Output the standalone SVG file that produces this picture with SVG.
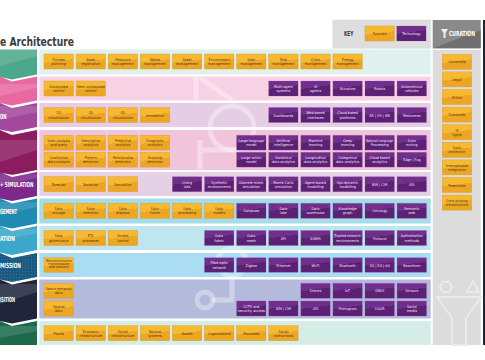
<svg xmlns="http://www.w3.org/2000/svg" width="485" height="360" viewBox="0 0 485 360">
<defs>
<linearGradient id="go" x1="0" y1="0" x2="0.25" y2="1"><stop offset=".55" stop-color="#f7b832"/><stop offset=".55" stop-color="#eda624"/></linearGradient>
<linearGradient id="gp" x1="0" y1="0" x2="0.25" y2="1"><stop offset=".5" stop-color="#722e8c"/><stop offset=".5" stop-color="#5c2075"/></linearGradient>
<pattern id="dots" width="3" height="3" patternUnits="userSpaceOnUse"><circle cx="1.5" cy="1.5" r=".45" fill="#4a8ab0"/></pattern>
<style>
.o{fill:url(#go);stroke:#d99a20;stroke-width:.4}
.p{fill:url(#gp);stroke:#8d4ca8;stroke-width:.4;stroke-dasharray:.6 .5}
.to,.tp{font-family:"Liberation Sans Narrow","DejaVu Sans Condensed","DejaVu Sans",sans-serif;font-size:3.7px;text-anchor:middle}
.to{fill:#4a3311}
.tp{fill:#f2e4f5}
.lab{font-family:"Liberation Sans Narrow","DejaVu Sans Condensed",sans-serif;font-weight:bold;fill:#ffffff;text-anchor:end}
.hd{font-family:"Liberation Sans Narrow","DejaVu Sans Condensed",sans-serif;font-weight:bold}
.sh{fill:#ffffff;opacity:.13}
</style>
</defs>
<rect width="485" height="360" fill="#ffffff"/>

<!-- title -->
<text class="hd" x="0" y="46.3" font-size="12.5" fill="#3b3b3b" textLength="74" lengthAdjust="spacingAndGlyphs">e Architecture</text>

<!-- layer panels -->
<g id="panels">
<rect x="39.3" y="49.5" width="391.4" height="25" fill="#e0f1ed"/>
<rect x="39.3" y="76.5" width="391.4" height="24" fill="#f7d2e4"/>
<rect x="39.3" y="103" width="391.4" height="24" fill="#e5cde5"/>
<rect x="39.3" y="130" width="391.4" height="40" fill="#f0c5dc"/>
<rect x="39.3" y="172" width="391.4" height="24" fill="#e6d0e6"/>
<rect x="39.3" y="198.5" width="391.4" height="25" fill="#a6dbe8"/>
<rect x="39.3" y="226" width="391.4" height="24" fill="#bfe5ee"/>
<rect x="39.3" y="253" width="391.4" height="24" fill="#aadcf2"/>
<rect x="39.3" y="279.5" width="391.4" height="39" fill="#b4badb"/>
<rect x="39.3" y="321" width="391.4" height="24" fill="#d5ede7"/>
</g>

<!-- faint watermark shapes -->
<g id="watermark" fill="none" stroke="#ffffff" stroke-opacity=".35" stroke-width="5">
<path d="M196 76 V100 M200 78 L232 100"/>
<circle cx="232" cy="128" r="22"/>
<path d="M200 140 V170 M200 150 H236"/>
<circle cx="205" cy="300" r="8"/>
<circle cx="232" cy="262" r="14"/>
<path d="M212 300 H232 V276"/>
</g>

<!-- chevrons -->
<g id="chevrons">
<g id="layer-1"><polygon points="0,49.5 37,49.5 37,74.5 12,79.5 0,77" fill="#4ca88b"/><polygon class="sh" points="0,49.5 37,49.5 37,56 0,66"/></g>
<g id="layer-2"><polygon points="0,76.5 12,81.5 37,76.5 37,100.5 12,105.5 0,103" fill="#e8699f"/><polygon class="sh" points="0,84 37,84 37,88 0,96"/></g>
<g id="layer-3"><polygon points="0,103 12,108 37,103 37,127 12,132 0,129.5" fill="#a3489d"/><polygon class="sh" points="0,106 37,106 37,112 0,120"/><text class="lab" x="6.5" y="119" font-size="7" textLength="6.5" lengthAdjust="spacingAndGlyphs">ON</text></g>
<g id="layer-4"><polygon points="0,130 12,135 37,130 37,170 12,175 0,172.5" fill="#8c1c5f"/><polygon class="sh" points="0,140 37,140 37,150 0,162"/></g>
<g id="layer-5"><polygon points="0,172 12,177 37,172 37,196 12,201 0,198.5" fill="#7b2a8c"/><polygon class="sh" points="0,174 37,174 37,178 0,186"/><text class="lab" x="33.5" y="186.8" font-size="7" textLength="33.5" lengthAdjust="spacingAndGlyphs">+ SIMULATION</text></g>
<g id="layer-6"><polygon points="0,198.5 12,203.5 37,198.5 37,223.5 12,228.5 0,226" fill="#1f8bb3"/><polygon class="sh" points="0,202 37,202 37,207 0,215"/><text class="lab" x="17" y="214.3" font-size="7" textLength="17" lengthAdjust="spacingAndGlyphs">GEMENT</text></g>
<g id="layer-7"><polygon points="0,226 12,231 37,226 37,250 12,255 0,252.5" fill="#3aa7cb"/><polygon class="sh" points="0,229 37,229 37,233 0,241"/><text class="lab" x="15" y="240.8" font-size="7" textLength="15" lengthAdjust="spacingAndGlyphs">ATION</text></g>
<g id="layer-8"><polygon points="0,253 12,258 37,253 37,277 12,282 0,279.5" fill="#1b5a80"/><polygon points="0,253 12,258 37,253 37,277 12,282 0,279.5" fill="url(#dots)"/><text class="lab" x="21" y="267.6" font-size="7" textLength="21" lengthAdjust="spacingAndGlyphs">MISSION</text></g>
<g id="layer-9"><polygon points="0,279.5 12,284.5 37,279.5 37,318.5 12,323.5 0,321" fill="#21253c"/><polygon class="sh" points="0,284 37,284 37,292 0,304"/><text class="lab" x="15" y="301.6" font-size="7" textLength="15" lengthAdjust="spacingAndGlyphs">ISITION</text></g>
<g id="layer-10"><polygon points="0,321 12,326 37,321 37,345 0,345" fill="#1b6a4b"/><polygon class="sh" points="0,326 37,326 37,331 0,338"/></g>
</g>

<!-- key -->
<g id="key">
<rect x="332.7" y="20" width="98" height="28.3" fill="#dedede" stroke="#c9c9c9" stroke-width=".5" stroke-dasharray="1 .8"/>
<text class="hd" x="348.7" y="35.6" font-size="6.8" fill="#3b3b3b" text-anchor="middle" textLength="9.5" lengthAdjust="spacingAndGlyphs">KEY</text>
<g id="key-function"><rect class="o" x="365" y="26" width="29.4" height="15"/><text class="to" x="379.7" y="35">Function</text></g>
<g id="key-technology"><rect class="p" x="396.7" y="26" width="29.4" height="15"/><text class="tp" x="411.4" y="35">Technology</text></g>
</g>

<!-- curation -->
<g id="curation">
<rect x="432.7" y="20" width="48" height="28.3" fill="#8a8a8a"/>
<polygon points="432.7,48.3 480.7,30 480.7,48.3" fill="#6f6f6f"/>
<polygon points="441,29 448,29 445.5,33 445.5,38 443.5,38 443.5,33" fill="#ffffff" opacity=".85"/>
<text class="hd" x="462" y="35.8" font-size="7" fill="#ffffff" text-anchor="middle" textLength="26" lengthAdjust="spacingAndGlyphs">CURATION</text>
<rect x="432.7" y="50" width="48" height="295" fill="#dcdcdc"/>
<g fill="none" stroke="#ebebeb" stroke-width="2">
<polygon points="440,287 443,281.8 449,281.8 452,287 449,292.2 443,292.2"/>
<polygon points="473,281 479,292 467,292"/>
<polygon points="437,297 481,297 466,318 466,345 452,345 452,318"/>
</g>
<rect x="483" y="20" width="2" height="325" fill="#1f2338"/>
</g>

<g id="connectors"></g>

<!-- nodes -->
<g id="nodes">
<!-- row 1 -->
<g id="futures-planning"><rect class="o" x="44" y="54" width="29.4" height="15"/><text class="to" x="58.7" y="60.8">Futures<tspan x="58.7" dy="4.2">planning</tspan></text></g>
<g id="asset-registration"><rect class="o" x="76.1" y="54" width="29.4" height="15"/><text class="to" x="90.8" y="60.8">Asset<tspan x="90.8" dy="4.2">registration</tspan></text></g>
<g id="resource-management"><rect class="o" x="108.2" y="54" width="29.4" height="15"/><text class="to" x="122.9" y="60.8">Resource<tspan x="122.9" dy="4.2">management</tspan></text></g>
<g id="waste-management"><rect class="o" x="140.3" y="54" width="29.4" height="15"/><text class="to" x="155" y="60.8">Waste<tspan x="155" dy="4.2">management</tspan></text></g>
<g id="asset-management"><rect class="o" x="172.4" y="54" width="29.4" height="15"/><text class="to" x="187.1" y="60.8">Asset<tspan x="187.1" dy="4.2">management</tspan></text></g>
<g id="environment-management"><rect class="o" x="204.5" y="54" width="29.4" height="15"/><text class="to" x="219.2" y="60.8">Environment<tspan x="219.2" dy="4.2">management</tspan></text></g>
<g id="user-management"><rect class="o" x="236.6" y="54" width="29.4" height="15"/><text class="to" x="251.3" y="60.8">User<tspan x="251.3" dy="4.2">management</tspan></text></g>
<g id="risk-management"><rect class="o" x="268.7" y="54" width="29.4" height="15"/><text class="to" x="283.4" y="60.8">Risk<tspan x="283.4" dy="4.2">management</tspan></text></g>
<g id="crisis-management"><rect class="o" x="300.8" y="54" width="29.4" height="15"/><text class="to" x="315.5" y="60.8">Crisis<tspan x="315.5" dy="4.2">management</tspan></text></g>
<g id="energy-management"><rect class="o" x="332.9" y="54" width="29.4" height="15"/><text class="to" x="347.6" y="60.8">Energy<tspan x="347.6" dy="4.2">management</tspan></text></g>
<!-- row 2 -->
<g id="automated-control"><rect class="o" x="44" y="81" width="29.4" height="15"/><text class="to" x="58.7" y="87.8">Automated<tspan x="58.7" dy="4.2">control</tspan></text></g>
<g id="semi-automated-control"><rect class="o" x="76.1" y="81" width="29.4" height="15"/><text class="to" x="90.8" y="87.8">Semi-automated<tspan x="90.8" dy="4.2">control</tspan></text></g>
<g id="multi-agent-systems"><rect class="p" x="268.7" y="81" width="29.4" height="15"/><text class="tp" x="283.4" y="87.8">Multi-agent<tspan x="283.4" dy="4.2">systems</tspan></text></g>
<g id="ai-agents"><rect class="p" x="300.8" y="81" width="29.4" height="15"/><text class="tp" x="315.5" y="87.8">AI<tspan x="315.5" dy="4.2">agents</tspan></text></g>
<g id="actuators"><rect class="p" x="332.9" y="81" width="29.4" height="15"/><text class="tp" x="347.6" y="90">Actuators</text></g>
<g id="robots"><rect class="p" x="365" y="81" width="29.4" height="15"/><text class="tp" x="379.7" y="90">Robots</text></g>
<g id="autonomous-vehicles"><rect class="p" x="397.1" y="81" width="29.4" height="15"/><text class="tp" x="411.8" y="87.8">Autonomous<tspan x="411.8" dy="4.2">vehicles</tspan></text></g>
<!-- row 3 -->
<g id="2d-visualisation"><rect class="o" x="44" y="107.5" width="29.4" height="15"/><text class="to" x="58.7" y="114.3">2D<tspan x="58.7" dy="4.2">visualisation</tspan></text></g>
<g id="3d-visualisation"><rect class="o" x="76.1" y="107.5" width="29.4" height="15"/><text class="to" x="90.8" y="114.3">3D<tspan x="90.8" dy="4.2">visualisation</tspan></text></g>
<g id="4d-visualisation"><rect class="o" x="108.2" y="107.5" width="29.4" height="15"/><text class="to" x="122.9" y="114.3">4D<tspan x="122.9" dy="4.2">visualisation</tspan></text></g>
<g id="immersive"><rect class="o" x="140.3" y="107.5" width="29.4" height="15"/><text class="to" x="155" y="116.5">Immersive</text></g>
<g id="dashboards"><rect class="p" x="268.7" y="107.5" width="29.4" height="15"/><text class="tp" x="283.4" y="116.5">Dashboards</text></g>
<g id="web-based-interfaces"><rect class="p" x="300.8" y="107.5" width="29.4" height="15"/><text class="tp" x="315.5" y="114.3">Web-based<tspan x="315.5" dy="4.2">interfaces</tspan></text></g>
<g id="cloud-based-platforms"><rect class="p" x="332.9" y="107.5" width="29.4" height="15"/><text class="tp" x="347.6" y="114.3">Cloud based<tspan x="347.6" dy="4.2">platforms</tspan></text></g>
<g id="ar-vr-mr"><rect class="p" x="365" y="107.5" width="29.4" height="15"/><text class="tp" x="379.7" y="116.5">AR | VR | MR</text></g>
<g id="metaverse"><rect class="p" x="397.1" y="107.5" width="29.4" height="15"/><text class="tp" x="411.8" y="116.5">Metaverse</text></g>
<!-- row 4a -->
<g id="data-analysis-query"><rect class="o" x="44" y="135.3" width="29.4" height="14.8"/><text class="to" x="58.7" y="142">Data analysis<tspan x="58.7" dy="4.2">and query</tspan></text></g>
<g id="descriptive-analytics"><rect class="o" x="76.1" y="135.3" width="29.4" height="14.8"/><text class="to" x="90.8" y="142">Descriptive<tspan x="90.8" dy="4.2">analytics</tspan></text></g>
<g id="predictive-analytics"><rect class="o" x="108.2" y="135.3" width="29.4" height="14.8"/><text class="to" x="122.9" y="142">Predictive<tspan x="122.9" dy="4.2">analytics</tspan></text></g>
<g id="diagnostic-analytics"><rect class="o" x="140.3" y="135.3" width="29.4" height="14.8"/><text class="to" x="155" y="142">Diagnostic<tspan x="155" dy="4.2">analytics</tspan></text></g>
<g id="large-language-model"><rect class="p" x="236.6" y="135.3" width="29.4" height="14.8"/><text class="tp" x="251.3" y="142">Large language<tspan x="251.3" dy="4.2">model</tspan></text></g>
<g id="artificial-intelligence"><rect class="p" x="268.7" y="135.3" width="29.4" height="14.8"/><text class="tp" x="283.4" y="142">Artificial<tspan x="283.4" dy="4.2">intelligence</tspan></text></g>
<g id="machine-learning"><rect class="p" x="300.8" y="135.3" width="29.4" height="14.8"/><text class="tp" x="315.5" y="142">Machine<tspan x="315.5" dy="4.2">learning</tspan></text></g>
<g id="deep-learning"><rect class="p" x="332.9" y="135.3" width="29.4" height="14.8"/><text class="tp" x="347.6" y="142">Deep<tspan x="347.6" dy="4.2">learning</tspan></text></g>
<g id="nlp"><rect class="p" x="365" y="135.3" width="29.4" height="14.8"/><text class="tp" x="379.7" y="142"><tspan textLength="27" lengthAdjust="spacingAndGlyphs">Natural Language</tspan><tspan x="379.7" dy="4.2">Processing</tspan></text></g>
<g id="data-mining"><rect class="p" x="397.1" y="135.3" width="29.4" height="14.8"/><text class="tp" x="411.8" y="142">Data<tspan x="411.8" dy="4.2">mining</tspan></text></g>
<!-- row 4b -->
<g id="qualitative-data-analysis"><rect class="o" x="44" y="152.3" width="29.4" height="14.8"/><text class="to" x="58.7" y="159">Qualitative<tspan x="58.7" dy="4.2">data analysis</tspan></text></g>
<g id="pattern-detection"><rect class="o" x="76.1" y="152.3" width="29.4" height="14.8"/><text class="to" x="90.8" y="159">Pattern<tspan x="90.8" dy="4.2">detection</tspan></text></g>
<g id="relationship-detection"><rect class="o" x="108.2" y="152.3" width="29.4" height="14.8"/><text class="to" x="122.9" y="159">Relationship<tspan x="122.9" dy="4.2">detection</tspan></text></g>
<g id="anomaly-detection"><rect class="o" x="140.3" y="152.3" width="29.4" height="14.8"/><text class="to" x="155" y="159">Anomaly<tspan x="155" dy="4.2">detection</tspan></text></g>
<g id="large-action-model"><rect class="p" x="236.6" y="152.3" width="29.4" height="14.8"/><text class="tp" x="251.3" y="159">Large action<tspan x="251.3" dy="4.2">model</tspan></text></g>
<g id="statistical-data-analytics"><rect class="p" x="268.7" y="152.3" width="29.4" height="14.8"/><text class="tp" x="283.4" y="159">Statistical<tspan x="283.4" dy="4.2">data analytics</tspan></text></g>
<g id="longitudinal-data-analytics"><rect class="p" x="300.8" y="152.3" width="29.4" height="14.8"/><text class="tp" x="315.5" y="159">Longitudinal<tspan x="315.5" dy="4.2">data analytics</tspan></text></g>
<g id="categorical-data-analytics"><rect class="p" x="332.9" y="152.3" width="29.4" height="14.8"/><text class="tp" x="347.6" y="159">Categorical<tspan x="347.6" dy="4.2">data analytics</tspan></text></g>
<g id="cloud-based-analytics"><rect class="p" x="365" y="152.3" width="29.4" height="14.8"/><text class="tp" x="379.7" y="159">Cloud based<tspan x="379.7" dy="4.2">analytics</tspan></text></g>
<g id="edge-fog"><rect class="p" x="397.1" y="152.3" width="29.4" height="14.8"/><text class="tp" x="411.8" y="161.2">Edge | Fog</text></g>
<!-- row 5 -->
<g id="forecast"><rect class="o" x="44" y="176.7" width="29.4" height="15"/><text class="to" x="58.7" y="185.7">Forecast</text></g>
<g id="backcast"><rect class="o" x="76.1" y="176.7" width="29.4" height="15"/><text class="to" x="90.8" y="185.7">Backcast</text></g>
<g id="simulation"><rect class="o" x="108.2" y="176.7" width="29.4" height="15"/><text class="to" x="122.9" y="185.7">Simulation</text></g>
<g id="living-labs"><rect class="p" x="172.4" y="176.7" width="29.4" height="15"/><text class="tp" x="187.1" y="183.5">Living<tspan x="187.1" dy="4.2">labs</tspan></text></g>
<g id="synthetic-environments"><rect class="p" x="204.5" y="176.7" width="29.4" height="15"/><text class="tp" x="219.2" y="183.5">Synthetic<tspan x="219.2" dy="4.2">environments</tspan></text></g>
<g id="discrete-event-simulation"><rect class="p" x="236.6" y="176.7" width="29.4" height="15"/><text class="tp" x="251.3" y="183.5">Discrete event<tspan x="251.3" dy="4.2">simulation</tspan></text></g>
<g id="monte-carlo-simulation"><rect class="p" x="268.7" y="176.7" width="29.4" height="15"/><text class="tp" x="283.4" y="183.5">Monte Carlo<tspan x="283.4" dy="4.2">simulation</tspan></text></g>
<g id="agent-based-modelling"><rect class="p" x="300.8" y="176.7" width="29.4" height="15"/><text class="tp" x="315.5" y="183.5">Agent-based<tspan x="315.5" dy="4.2">modelling</tspan></text></g>
<g id="sys-dynamic-modelling"><rect class="p" x="332.9" y="176.7" width="29.4" height="15"/><text class="tp" x="347.6" y="183.5">Sys-dynamic<tspan x="347.6" dy="4.2">modelling</tspan></text></g>
<g id="bim-cim"><rect class="p" x="365" y="176.7" width="29.4" height="15"/><text class="tp" x="379.7" y="185.7">BIM | CIM</text></g>
<g id="gis-1"><rect class="p" x="397.1" y="176.7" width="29.4" height="15"/><text class="tp" x="411.8" y="185.7">GIS</text></g>
<!-- row 6 -->
<g id="data-storage"><rect class="o" x="44" y="203.3" width="29.4" height="15"/><text class="to" x="58.7" y="210.1">Data<tspan x="58.7" dy="4.2">storage</tspan></text></g>
<g id="data-retention"><rect class="o" x="76.1" y="203.3" width="29.4" height="15"/><text class="to" x="90.8" y="210.1">Data<tspan x="90.8" dy="4.2">retention</tspan></text></g>
<g id="data-disposal"><rect class="o" x="108.2" y="203.3" width="29.4" height="15"/><text class="to" x="122.9" y="210.1">Data<tspan x="122.9" dy="4.2">disposal</tspan></text></g>
<g id="data-fusion"><rect class="o" x="140.3" y="203.3" width="29.4" height="15"/><text class="to" x="155" y="210.1">Data<tspan x="155" dy="4.2">fusion</tspan></text></g>
<g id="data-processing"><rect class="o" x="172.4" y="203.3" width="29.4" height="15"/><text class="to" x="187.1" y="210.1">Data<tspan x="187.1" dy="4.2">processing</tspan></text></g>
<g id="data-models"><rect class="o" x="204.5" y="203.3" width="29.4" height="15"/><text class="to" x="219.2" y="210.1">Data<tspan x="219.2" dy="4.2">models</tspan></text></g>
<g id="database"><rect class="p" x="236.6" y="203.3" width="29.4" height="15"/><text class="tp" x="251.3" y="212.3">Database</text></g>
<g id="data-lake"><rect class="p" x="268.7" y="203.3" width="29.4" height="15"/><text class="tp" x="283.4" y="210.1">Data<tspan x="283.4" dy="4.2">lake</tspan></text></g>
<g id="data-warehouse"><rect class="p" x="300.8" y="203.3" width="29.4" height="15"/><text class="tp" x="315.5" y="210.1">Data<tspan x="315.5" dy="4.2">warehouse</tspan></text></g>
<g id="knowledge-graph"><rect class="p" x="332.9" y="203.3" width="29.4" height="15"/><text class="tp" x="347.6" y="210.1">Knowledge<tspan x="347.6" dy="4.2">graph</tspan></text></g>
<g id="ontology"><rect class="p" x="365" y="203.3" width="29.4" height="15"/><text class="tp" x="379.7" y="212.3">Ontology</text></g>
<g id="semantic-web"><rect class="p" x="397.1" y="203.3" width="29.4" height="15"/><text class="tp" x="411.8" y="210.1">Semantic<tspan x="411.8" dy="4.2">web</tspan></text></g>
<!-- row 7 -->
<g id="data-governance"><rect class="o" x="44" y="230.5" width="29.4" height="15"/><text class="to" x="58.7" y="237.3">Data<tspan x="58.7" dy="4.2">governance</tspan></text></g>
<g id="etl-processes"><rect class="o" x="76.1" y="230.5" width="29.4" height="15"/><text class="to" x="90.8" y="237.3">ETL<tspan x="90.8" dy="4.2">processes</tspan></text></g>
<g id="access-control"><rect class="o" x="108.2" y="230.5" width="29.4" height="15"/><text class="to" x="122.9" y="237.3">Access<tspan x="122.9" dy="4.2">control</tspan></text></g>
<g id="data-fabric"><rect class="p" x="204.5" y="230.5" width="29.4" height="15"/><text class="tp" x="219.2" y="237.3">Data<tspan x="219.2" dy="4.2">fabric</tspan></text></g>
<g id="data-mesh"><rect class="p" x="236.6" y="230.5" width="29.4" height="15"/><text class="tp" x="251.3" y="237.3">Data<tspan x="251.3" dy="4.2">mesh</tspan></text></g>
<g id="api"><rect class="p" x="268.7" y="230.5" width="29.4" height="15"/><text class="tp" x="283.4" y="239.5">API</text></g>
<g id="idbms"><rect class="p" x="300.8" y="230.5" width="29.4" height="15"/><text class="tp" x="315.5" y="239.5">IDBMS</text></g>
<g id="trusted-research-environments"><rect class="p" x="332.9" y="230.5" width="29.4" height="15"/><text class="tp" x="347.6" y="237.3"><tspan textLength="27" lengthAdjust="spacingAndGlyphs">Trusted research</tspan><tspan x="347.6" dy="4.2">environments</tspan></text></g>
<g id="protocol"><rect class="p" x="365" y="230.5" width="29.4" height="15"/><text class="tp" x="379.7" y="239.5">Protocol</text></g>
<g id="authorisation-methods"><rect class="p" x="397.1" y="230.5" width="29.4" height="15"/><text class="tp" x="411.8" y="237.3">Authorisation<tspan x="411.8" dy="4.2">methods</tspan></text></g>
<!-- row 8 -->
<g id="telecommunications"><rect class="o" x="44" y="257.7" width="29.4" height="14.6"/><text class="to" x="58.7" y="262.1" font-size="3"><tspan textLength="26" lengthAdjust="spacingAndGlyphs">Telecommunications</tspan><tspan x="58.7" dy="2.7">transmission</tspan><tspan x="58.7" dy="2.7">and sensors</tspan></text></g>
<g id="fibre-optic-network"><rect class="p" x="204.5" y="257.7" width="29.4" height="14.6"/><text class="tp" x="219.2" y="264.3">Fibre optic<tspan x="219.2" dy="4.2">network</tspan></text></g>
<g id="zigbee"><rect class="p" x="236.6" y="257.7" width="29.4" height="14.6"/><text class="tp" x="251.3" y="266.5">Zigbee</text></g>
<g id="ethernet"><rect class="p" x="268.7" y="257.7" width="29.4" height="14.6"/><text class="tp" x="283.4" y="266.5">Ethernet</text></g>
<g id="wi-fi"><rect class="p" x="300.8" y="257.7" width="29.4" height="14.6"/><text class="tp" x="315.5" y="266.5">Wi-Fi</text></g>
<g id="bluetooth"><rect class="p" x="332.9" y="257.7" width="29.4" height="14.6"/><text class="tp" x="347.6" y="266.5">Bluetooth</text></g>
<g id="4g-5g-6g"><rect class="p" x="365" y="257.7" width="29.4" height="14.6"/><text class="tp" x="379.7" y="266.5">4G | 5G | 6G</text></g>
<g id="beamform"><rect class="p" x="397.1" y="257.7" width="29.4" height="14.6"/><text class="tp" x="411.8" y="266.5">Beamform</text></g>
<!-- row 9a -->
<g id="spatio-temporal-data"><rect class="o" x="44" y="283.3" width="29.4" height="15"/><text class="to" x="58.7" y="290.1"><tspan textLength="26" lengthAdjust="spacingAndGlyphs">Spatio-temporal</tspan><tspan x="58.7" dy="4.2">data</tspan></text></g>
<g id="drones"><rect class="p" x="300.8" y="283.3" width="29.4" height="15"/><text class="tp" x="315.5" y="292.3">Drones</text></g>
<g id="iot"><rect class="p" x="332.9" y="283.3" width="29.4" height="15"/><text class="tp" x="347.6" y="292.3">IoT</text></g>
<g id="gnss"><rect class="p" x="365" y="283.3" width="29.4" height="15"/><text class="tp" x="379.7" y="292.3">GNSS</text></g>
<g id="sensors"><rect class="p" x="397.1" y="283.3" width="29.4" height="15"/><text class="tp" x="411.8" y="292.3">Sensors</text></g>
<!-- row 9b -->
<g id="spatial-data"><rect class="o" x="44" y="301" width="29.4" height="15"/><text class="to" x="58.7" y="307.8">Spatial<tspan x="58.7" dy="4.2">data</tspan></text></g>
<g id="cctv"><rect class="p" x="236.6" y="301" width="29.4" height="15"/><text class="tp" x="251.3" y="307.8">CCTV and<tspan x="251.3" dy="4.2" textLength="27" lengthAdjust="spacingAndGlyphs">security access</tspan></text></g>
<g id="aim-cim"><rect class="p" x="268.7" y="301" width="29.4" height="15"/><text class="tp" x="283.4" y="310">AIM | CIM</text></g>
<g id="gis-2"><rect class="p" x="300.8" y="301" width="29.4" height="15"/><text class="tp" x="315.5" y="310">GIS</text></g>
<g id="photogram"><rect class="p" x="332.9" y="301" width="29.4" height="15"/><text class="tp" x="347.6" y="310">Photogram</text></g>
<g id="lidar"><rect class="p" x="365" y="301" width="29.4" height="15"/><text class="tp" x="379.7" y="310">LiDAR</text></g>
<g id="social-media"><rect class="p" x="397.1" y="301" width="29.4" height="15"/><text class="tp" x="411.8" y="307.8">Social<tspan x="411.8" dy="4.2">media</tspan></text></g>
<!-- row 10 -->
<g id="places"><rect class="o" x="44" y="325.7" width="29.4" height="15"/><text class="to" x="58.7" y="334.7">Places</text></g>
<g id="economic-infrastructure"><rect class="o" x="76.1" y="325.7" width="29.4" height="15"/><text class="to" x="90.8" y="332.5">Economic<tspan x="90.8" dy="4.2">infrastructure</tspan></text></g>
<g id="social-infrastructure"><rect class="o" x="108.2" y="325.7" width="29.4" height="15"/><text class="to" x="122.9" y="332.5">Social<tspan x="122.9" dy="4.2">infrastructure</tspan></text></g>
<g id="natural-systems"><rect class="o" x="140.3" y="325.7" width="29.4" height="15"/><text class="to" x="155" y="332.5">Natural<tspan x="155" dy="4.2">systems</tspan></text></g>
<g id="assets"><rect class="o" x="172.4" y="325.7" width="29.4" height="15"/><text class="to" x="187.1" y="334.7">Assets</text></g>
<g id="organisations"><rect class="o" x="204.5" y="325.7" width="29.4" height="15"/><text class="to" x="219.2" y="334.7">Organisations</text></g>
<g id="processes"><rect class="o" x="236.6" y="325.7" width="29.4" height="15"/><text class="to" x="251.3" y="334.7">Processes</text></g>
<g id="social-interactions"><rect class="o" x="268.7" y="325.7" width="29.4" height="15"/><text class="to" x="283.4" y="332.5">Social<tspan x="283.4" dy="4.2">interactions</tspan></text></g>
<!-- curation -->
<g id="ownership"><rect class="o" x="442.3" y="54.3" width="29.4" height="15"/><text class="to" x="457" y="63.3">Ownership</text></g>
<g id="legal"><rect class="o" x="442.3" y="71.9" width="29.4" height="15"/><text class="to" x="457" y="80.9">Legal</text></g>
<g id="ethics"><rect class="o" x="442.3" y="89.5" width="29.4" height="15"/><text class="to" x="457" y="98.5">Ethics</text></g>
<g id="standards"><rect class="o" x="442.3" y="107.1" width="29.4" height="15"/><text class="to" x="457" y="116.1">Standards</text></g>
<g id="ip-rights"><rect class="o" x="442.3" y="124.7" width="29.4" height="15"/><text class="to" x="457" y="131.5">IP<tspan x="457" dy="4.2">rights</tspan></text></g>
<g id="data-protection"><rect class="o" x="442.3" y="142.3" width="29.4" height="15"/><text class="to" x="457" y="149.1">Data<tspan x="457" dy="4.2">protection</tspan></text></g>
<g id="interoperable-integration"><rect class="o" x="442.3" y="159.9" width="29.4" height="15"/><text class="to" x="457" y="166.7">Interoperable<tspan x="457" dy="4.2">integration</tspan></text></g>
<g id="federation"><rect class="o" x="442.3" y="177.5" width="29.4" height="15"/><text class="to" x="457" y="186.5">Federation</text></g>
<g id="data-sharing-infrastructure"><rect class="o" x="442.3" y="195.1" width="29.4" height="15"/><text class="to" x="457" y="201.9">Data sharing<tspan x="457" dy="4.2">infrastructure</tspan></text></g>
</g>
</svg>
